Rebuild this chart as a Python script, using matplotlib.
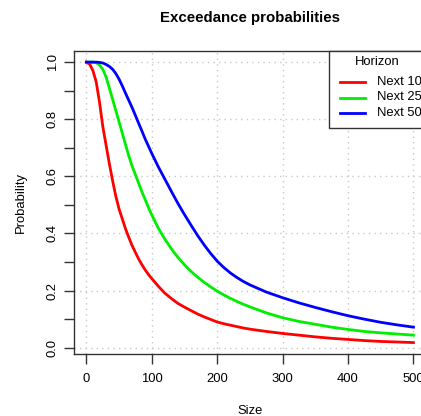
import numpy as np
import matplotlib
matplotlib.use("Agg")
import matplotlib.pyplot as plt
from matplotlib.patches import Rectangle
from matplotlib.lines import Line2D

plt.rcParams['font.family'] = ['Liberation Sans', 'DejaVu Sans']

# values
size = [0, 5, 10, 15, 20, 25, 30, 35, 40, 45, 50, 55, 60, 65, 70, 75, 80, 85, 90, 95,
        100, 110, 120, 130, 140, 150, 160, 170, 180, 190, 200, 210, 220, 230, 240,
        250, 275, 300, 325, 350, 375, 400, 425, 450, 475, 500]

p_next10 = [1.000, 0.993, 0.970, 0.930, 0.860, 0.775, 0.710, 0.645, 0.585, 0.530,
            0.485, 0.450, 0.415, 0.385, 0.357, 0.333, 0.310, 0.290, 0.272, 0.256,
            0.242, 0.215, 0.191, 0.172, 0.155, 0.142, 0.130, 0.118, 0.108, 0.099, 0.090,
            0.084, 0.079, 0.074, 0.069, 0.065,
            0.057, 0.050, 0.044, 0.038, 0.033, 0.029, 0.025, 0.022, 0.020, 0.018]

p_next25 = [1.000, 1.000, 1.000, 0.998, 0.990, 0.975, 0.948, 0.910, 0.870, 0.830,
            0.790, 0.750, 0.710, 0.670, 0.635, 0.605, 0.575, 0.545, 0.518, 0.490,
            0.465, 0.418, 0.380, 0.346, 0.316, 0.290, 0.267, 0.247, 0.229, 0.213, 0.198,
            0.185, 0.173, 0.162, 0.152, 0.143,
            0.122, 0.105, 0.092, 0.082, 0.072, 0.064, 0.057, 0.052, 0.048, 0.044]

p_next50 = [1.000, 1.000, 1.000, 1.000, 0.999, 0.997, 0.992, 0.985, 0.975, 0.960,
            0.940, 0.916, 0.890, 0.865, 0.840, 0.813, 0.785, 0.758, 0.730, 0.705,
            0.680, 0.633, 0.590, 0.547, 0.505, 0.466, 0.429, 0.393, 0.360, 0.330, 0.303,
            0.281, 0.262, 0.246, 0.232, 0.220,
            0.195, 0.175, 0.157, 0.141, 0.126, 0.112, 0.100, 0.089, 0.080, 0.072]

labels = ["Next 10", "Next 25", "Next 50"]
colors = ["#ff0000", "#00ee00", "#0000ff"]
curves = [p_next10, p_next25, p_next50]

x_ticks = [0, 100, 200, 300, 400, 500]
y_ticks = [0.0, 0.1, 0.2, 0.3, 0.4, 0.5, 0.6, 0.7, 0.8, 0.9, 1.0]
y_grid = [0.0, 0.2, 0.4, 0.6, 0.8, 1.0]

W, H = 421, 416
fig = plt.figure(figsize=(W / 100, H / 100), dpi=100)
ax = fig.add_axes([74 / W, 1 - 354 / H, 352.5 / W, 303 / H])

# dotted grid like R's grid()
for gx in x_ticks:
    ax.axvline(gx, color="#c8c8c8", lw=1.0, ls=(0, (1, 3)), zorder=0)
for gy in y_grid:
    ax.axhline(gy, color="#c8c8c8", lw=1.0, ls=(0, (1, 3)), zorder=0)

for name, vals, col in zip(labels, curves, colors):
    ax.plot(size, vals, color=col, lw=2.0, label=name)

ax.set_xlim(-19, 520)
ax.set_ylim(-0.022, 1.039)

ax.set_xticks(x_ticks)
ax.set_xticklabels([str(v) for v in x_ticks], fontsize=9.4)
ax.set_yticks(y_ticks)
ax.set_yticklabels(["%.1f" % v if i % 2 == 0 else "" for i, v in enumerate(y_ticks)],
                   fontsize=9.4, rotation=90, va="center")
ax.tick_params(axis="both", length=7, width=1, color="#333333", pad=4)
ax.tick_params(axis="x", pad=7)

for s in ax.spines.values():
    s.set_color("#333333")
    s.set_linewidth(1)

ax.set_xlabel("Size", fontsize=9.4, labelpad=14)
ax.set_ylabel("Probability", fontsize=9.4, labelpad=14)
fig.text(250 / W, 1 - 18 / H, "Exceedance probabilities", fontsize=10.8,
         fontweight="bold", ha="center", va="center")

# legend box drawn R-style in the top right corner of the plot region
def fx(px):
    return px / W

def fy(py):
    return 1 - py / H

fig.patches.append(Rectangle((fx(329), fy(128)), fx(426) - fx(329), fy(51) - fy(128),
                             transform=fig.transFigure, facecolor="white",
                             edgecolor="#333333", lw=1, zorder=5))
fig.text(fx(377), fy(62), "Horizon", fontsize=9.4, ha="center", va="center", zorder=6)
for i, (name, col) in enumerate(zip(labels, colors)):
    row = 82 + i * 15.5
    fig.lines.append(Line2D([fx(340), fx(365)], [fy(row), fy(row)], color=col, lw=2.0,
                            transform=fig.transFigure, zorder=6))
    fig.text(fx(377), fy(row), name, fontsize=9.4, ha="left", va="center", zorder=6)

fig.savefig("out.png", dpi=100)
